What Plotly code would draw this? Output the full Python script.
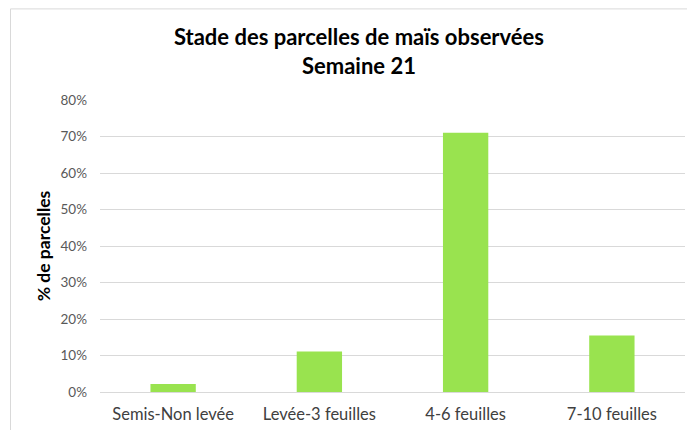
import plotly.graph_objects as go

categories = ["Semis-Non levée", "Levée-3 feuilles", "4-6 feuilles", "7-10 feuilles"]
values = [0.022, 0.111, 0.71, 0.155]
y_ticks = [0, 0.1, 0.2, 0.3, 0.4, 0.5, 0.6, 0.7, 0.8]
y_tick_labels = ["0%", "10%", "20%", "30%", "40%", "50%", "60%", "70%", "80%"]

FONT = "Lato, Carlito, Calibri, sans-serif"

fig = go.Figure(go.Bar(
    x=categories, y=values,
    marker=dict(color="#99E34F", line=dict(width=0)),
))

fig.update_layout(
    width=695, height=430,
    margin=dict(l=92, r=18, t=92, b=46),
    paper_bgcolor="white", plot_bgcolor="white",
    bargap=0.69,
    showlegend=False,
    font=dict(family=FONT, color="#595959"),
    title=dict(
        text="<b>Stade des parcelles de maïs observées<br>Semaine 21</b>",
        x=0.505, xanchor="center", y=0.913, yanchor="middle",
        font=dict(family=FONT, size=22, color="#000000"),
    ),
    shapes=[dict(type="rect", xref="paper", yref="paper",
                 x0=-0.153, x1=1.04, y0=-0.17, y1=1.312,
                 line=dict(color="#d9d9d9", width=1), layer="below")],
)

fig.update_xaxes(
    showgrid=False, showline=True, linecolor="#d9d9d9", linewidth=1,
    ticks="", tickfont=dict(family=FONT, size=16.5, color="#404040"),
    ticklabelstandoff=7,
)
fig.update_yaxes(
    range=[0, 0.8], tickvals=y_ticks, ticktext=y_tick_labels,
    showgrid=True, gridcolor="#d9d9d9", gridwidth=1,
    zeroline=False, showline=False, ticks="",
    tickfont=dict(family=FONT, size=13.5, color="#595959"),
    ticklabelstandoff=12,
    title=dict(text="<b>% de parcelles</b>", standoff=5,
               font=dict(family=FONT, size=17.5, color="#000000")),
)

fig.write_html("out.html")
